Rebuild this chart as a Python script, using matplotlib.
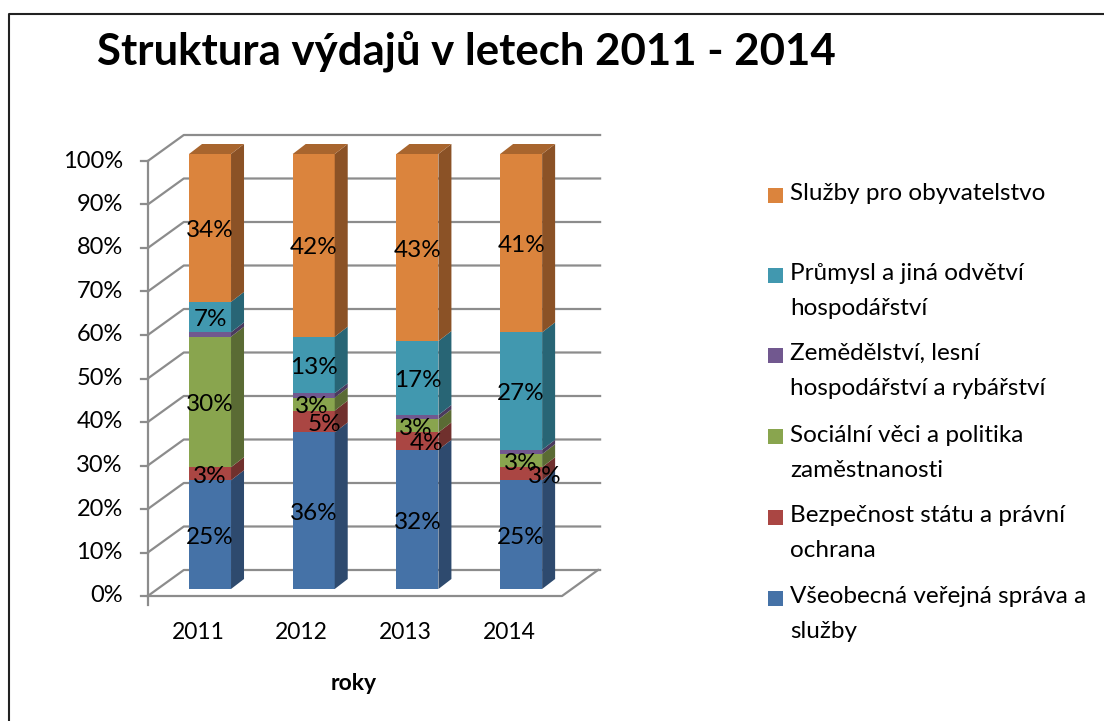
import numpy as np
import matplotlib
matplotlib.use("Agg")
import matplotlib.pyplot as plt
from matplotlib.patches import Polygon, Rectangle
from matplotlib.lines import Line2D

plt.rcParams["font.family"] = ["Lato", "DejaVu Sans"]

years = ["2011", "2012", "2013", "2014"]
series = ["Všeobecná veřejná správa a\nslužby",
          "Bezpečnost státu a právní\nochrana",
          "Sociální věci a politika\nzaměstnanosti",
          "Zemědělství, lesní\nhospodářství a rybářství",
          "Průmysl a jiná odvětví\nhospodářství",
          "Služby pro obyvatelstvo"]
# shares in %, bottom -> top
vseobecna = [25, 36, 32, 25]
bezpecnost = [3, 5, 4, 3]
socialni = [30, 3, 3, 3]
zemedelstvi = [1, 1, 1, 1]
prumysl = [7, 13, 17, 27]
sluzby = [34, 42, 43, 41]
values = [vseobecna, bezpecnost, socialni, zemedelstvi, prumysl, sluzby]
show_label = [True, True, True, False, True, True]

front = ["#4572A7", "#AA4643", "#89A54E", "#71588F", "#4198AF", "#DB843D"]
side = ["#2E4A6E", "#70302D", "#5A6B34", "#4A3A5E", "#286575", "#8B5226"]
top = ["#35577F", "#843836", "#6A7F3C", "#574470", "#307585", "#A8652E"]

# label nudges (x in category units) for crowded thin segments
nudge = {(1, 1): 0.10, (1, 2): -0.02, (2, 1): 0.09, (2, 2): -0.02, (3, 1): 0.23}

W, H = 1104, 721
fig = plt.figure(figsize=(W / 100, H / 100), dpi=100)

# axes mapped to the front plane of the 3D chart
px_x, px_y = 103.7, 4.35
left_px, bot_px = 147.8, 596
ax = fig.add_axes([left_px / W, (H - bot_px) / H, 4.35 * px_x / W, 100 * px_y / H])
ax.set_xlim(-0.6, 3.75)
ax.set_ylim(0, 100)
ax.axis("off")

wdx, wdy = 36 / px_x, 26 / px_y      # wall depth offset
base = 7 / px_y                       # bar bottom above front floor edge
bw = 42 / px_x
sdx, sdy = 13 / px_x, 10 / px_y       # bar depth
x0 = -0.6
xr = (562 - 210) / px_x
grid_c = "#8C8C8C"
glw = 1.6

# floor
ax.add_line(Line2D([x0, xr, xr + wdx], [0, 0, wdy], color=grid_c, lw=glw, clip_on=False))
# back wall grid + left wall diagonals
for v in range(0, 101, 10):
    ax.add_line(Line2D([x0, x0 + wdx, xr + wdx + 0.02], [v, v + wdy, v + wdy],
                       color=grid_c, lw=glw, clip_on=False))
    ax.add_line(Line2D([x0 - 7 / px_x, x0], [v, v], color=grid_c, lw=glw, clip_on=False))
    ax.text(x0 - 25 / px_x, v, f"{v}%", ha="right", va="center", fontsize=17, color="#000000")
ax.add_line(Line2D([x0, x0], [-2, 100], color=grid_c, lw=glw, clip_on=False))

# bars
for i, yr in enumerate(years):
    xl, xrr = i - bw / 2, i + bw / 2
    cum = 0
    for s, vals in enumerate(values):
        v = vals[i]
        y0, y1 = base + cum, base + cum + v
        ax.add_patch(Rectangle((xl, y0), bw, v, facecolor=front[s], edgecolor="none",
                               clip_on=False, zorder=3))
        ax.add_patch(Polygon([(xrr, y0), (xrr + sdx, y0 + sdy), (xrr + sdx, y1 + sdy), (xrr, y1)],
                             closed=True, facecolor=side[s], edgecolor="none",
                             clip_on=False, zorder=3))
        if s == len(values) - 1:
            ax.add_patch(Polygon([(xl, y1), (xl + sdx, y1 + sdy), (xrr + sdx, y1 + sdy), (xrr, y1)],
                                 closed=True, facecolor=top[s], edgecolor="none",
                                 clip_on=False, zorder=3))
        if show_label[s]:
            ax.text(i + nudge.get((i, s), 0), (y0 + y1) / 2 - 0.6, f"{v}%", ha="center",
                    va="center", fontsize=17.5, color="black", zorder=5)
        cum += v
    ax.text(i - 12 / px_x, -8.5, yr, ha="center", va="center", fontsize=16.5)

ax.text(1.5 - 12 / px_x, -20, "roky", ha="center", va="center", fontsize=16.5, fontweight="bold")

# title
fig.text(97 / W, 1 - 51 / H, "Struktura výdajů v letech 2011 - 2014", ha="left", va="center",
         fontsize=31.5, fontweight="bold")

# legend (top to bottom)
ys = [195, 275, 355, 437, 517, 598]
for k, s in enumerate(reversed(range(len(series)))):
    yc = ys[k]
    fig.patches.append(Rectangle((768 / W, 1 - (yc + 7.5) / H), 15 / W, 15 / H,
                                 transform=fig.transFigure, facecolor=front[s], edgecolor="none"))
    fig.text(790 / W, 1 - (yc - 12) / H, series[s], ha="left", va="top", fontsize=17.5,
             linespacing=1.82)

# outer frame (top and left edges)
fig.add_artist(Line2D([9 / W, 9 / W, 1.0], [0, 1 - 14 / H, 1 - 14 / H], transform=fig.transFigure,
                      color="#222222", lw=1.5))

fig.savefig("out.png", dpi=100, facecolor="white")
